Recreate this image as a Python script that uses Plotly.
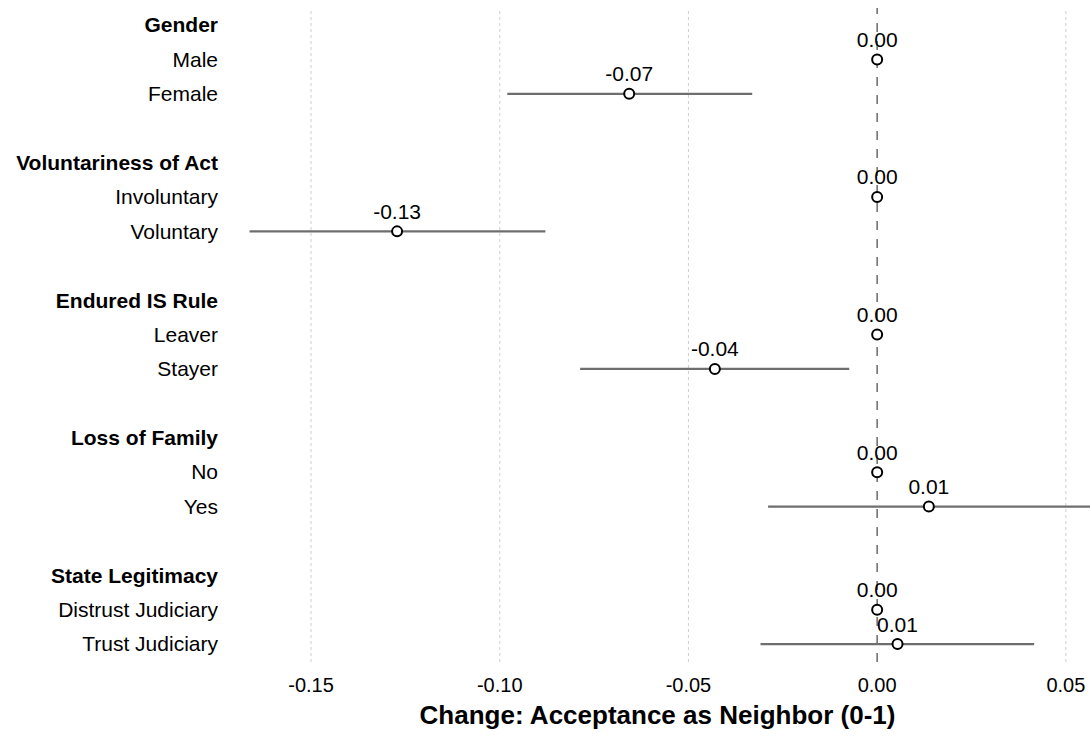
import plotly.graph_objects as go

# Row layout: group headers followed by their two levels, blank spacer between groups
row_labels = [
    "<b>Gender</b>", "Male", "Female", "",
    "<b>Voluntariness of Act</b>", "Involuntary", "Voluntary", "",
    "<b>Endured IS Rule</b>", "Leaver", "Stayer", "",
    "<b>Loss of Family</b>", "No", "Yes", "",
    "<b>State Legitimacy</b>", "Distrust Judiciary", "Trust Judiciary",
]

# Estimates (reference levels fixed at zero) and 95% intervals
levels = ["Male", "Female", "Involuntary", "Voluntary", "Leaver", "Stayer",
          "No", "Yes", "Distrust Judiciary", "Trust Judiciary"]
estimate = [0.0, -0.0657, 0.0, -0.1272, 0.0, -0.0430, 0.0, 0.0137, 0.0, 0.0054]
ci_low = [None, -0.0980, None, -0.1663, None, -0.0787, None, -0.0289, None, -0.0309]
ci_high = [None, -0.0331, None, -0.0879, None, -0.0074, None, 0.0565, None, 0.0416]

x_ticks = [-0.15, -0.10, -0.05, 0.0, 0.05]
x_tick_text = ["-0.15", "-0.10", "-0.05", "0.00", "0.05"]

FONT = "Liberation Sans, Arial, Helvetica, sans-serif"

row_pos = [row_labels.index(lv) for lv in levels]

fig = go.Figure()

# confidence interval segments
seg_x, seg_y = [], []
for lo, hi, y in zip(ci_low, ci_high, row_pos):
    if lo is None:
        continue
    seg_x += [lo, hi, None]
    seg_y += [y, y, None]
fig.add_trace(go.Scatter(
    x=seg_x, y=seg_y, mode="lines",
    line=dict(color="#6e6e6e", width=2.2),
    hoverinfo="skip", showlegend=False,
))

# point estimates with value labels
fig.add_trace(go.Scatter(
    x=estimate, y=row_pos, mode="markers+text",
    marker=dict(symbol="circle", size=10, color="white",
                line=dict(color="black", width=2)),
    text=[f"{v:.2f}".replace("-0.00", "0.00") for v in estimate],
    textposition="top center",
    textfont=dict(family=FONT, size=21, color="black"),
    cliponaxis=False,
    showlegend=False,
))

# light dotted vertical grid (zero gets its own dashed line)
for t in x_ticks:
    if t == 0:
        continue
    fig.add_shape(type="line", xref="x", yref="paper", x0=t, x1=t, y0=0, y1=1,
                  line=dict(color="#cfcfcf", width=1, dash="dot"), layer="below")

# dashed reference line at zero
fig.add_shape(type="line", xref="x", yref="paper", x0=0, x1=0, y0=0, y1=1,
              line=dict(color="#6a6a6a", width=1.5, dash="dash"), layer="below")

fig.update_layout(
    width=1090, height=742,
    margin=dict(l=225, r=0, t=8, b=80),
    paper_bgcolor="white", plot_bgcolor="white",
    font=dict(family=FONT, color="black"),
    xaxis=dict(
        range=[-0.1728, 0.0564],
        tickvals=x_ticks, ticktext=x_tick_text,
        tickfont=dict(size=20, color="black"),
        showgrid=False, zeroline=False, showline=False, ticks="",
        ticklabelstandoff=9,
        title=dict(text="<b>Change: Acceptance as Neighbor (0-1)</b>",
                   font=dict(size=26, color="black"), standoff=10),
    ),
    yaxis=dict(
        range=[18.52, -0.494],
        tickvals=list(range(len(row_labels))), ticktext=row_labels,
        tickfont=dict(size=21, color="black"),
        showgrid=False, zeroline=False, showline=False, ticks="",
        ticklabelstandoff=6,
    ),
)

fig.write_html("out.html")
